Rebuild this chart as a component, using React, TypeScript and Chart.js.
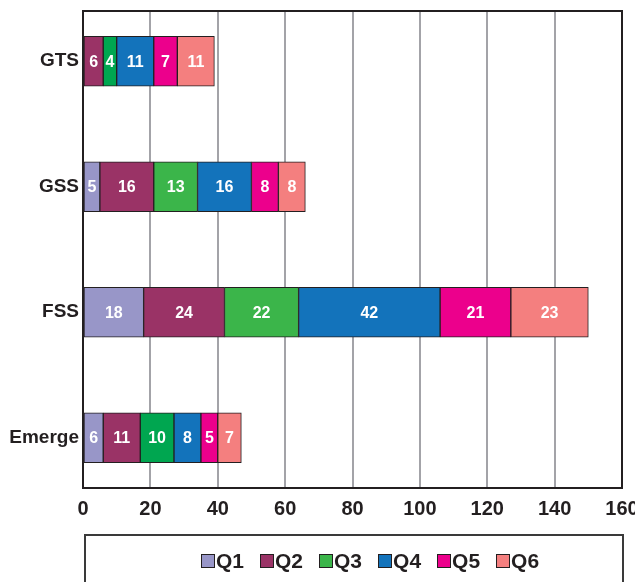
import React, { useEffect, useRef } from "react";
import { Chart, registerables } from "chart.js";

Chart.register(...registerables);

const categories = ["GTS", "GSS", "FSS", "Emerge"];
const seriesNames = ["Q1", "Q2", "Q3", "Q4", "Q5", "Q6"];
const q1 = [0, 5, 18, 6];
const q2 = [6, 16, 24, 11];
const q3 = [4, 13, 22, 10];
const q4 = [11, 16, 42, 8];
const q5 = [7, 8, 21, 5];
const q6 = [11, 8, 23, 7];
const seriesValues = [q1, q2, q3, q4, q5, q6];
const xTicks = [0, 20, 40, 60, 80, 100, 120, 140, 160];

const LIGHT_GREEN = "#3bb54a";
const DARK_GREEN = "#00a650";
const seriesColors: (string | string[])[] = [
  "#9896c8",
  "#9a3366",
  [DARK_GREEN, LIGHT_GREEN, LIGHT_GREEN, DARK_GREEN],
  "#1373bb",
  "#ec008c",
  "#f47f7f",
];
const legendColors = ["#9896c8", "#9a3366", LIGHT_GREEN, "#1373bb", "#ec008c", "#f47f7f"];

const SANS = '"Liberation Sans", Arial, sans-serif';

const barLabelPlugin = {
  id: "barLabels",
  afterDatasetsDraw(chart: any) {
    const ctx = chart.ctx;
    ctx.save();
    const a = chart.chartArea;
    ctx.strokeStyle = "#231f20";
    ctx.lineWidth = 2;
    ctx.strokeRect(a.left, a.top, a.right - a.left, a.bottom - a.top);
    ctx.fillStyle = "#ffffff";
    ctx.font = `bold 16px ${SANS}`;
    ctx.textAlign = "center";
    ctx.textBaseline = "middle";
    chart.data.datasets.forEach((ds: any, di: number) => {
      const meta = chart.getDatasetMeta(di);
      meta.data.forEach((el: any, i: number) => {
        const raw = ds.data[i];
        if (!raw || raw.x == null) return;
        const { x, base, y } = el.getProps(["x", "base", "y"], true);
        ctx.fillText(String(raw.x), (x + base) / 2, y + 1);
      });
    });
    ctx.restore();
  },
};

export default function App() {
  const canvasRef = useRef<HTMLCanvasElement | null>(null);

  useEffect(() => {
    if (!canvasRef.current) return;
    const datasets = seriesNames.map((name, si) => ({
      label: name,
      data: categories.map((_, ci) => ({
        x: seriesValues[si][ci] === 0 ? null : seriesValues[si][ci],
        y: ci,
      })),
      backgroundColor: seriesColors[si],
      borderColor: "#231f20",
      borderWidth: 1,
      borderSkipped: false,
      barThickness: 50,
    }));
    const chart = new Chart(canvasRef.current, {
      type: "bar",
      data: { datasets: datasets as any },
      plugins: [barLabelPlugin],
      options: {
        indexAxis: "y",
        animation: false,
        responsive: false,
        maintainAspectRatio: false,
        layout: { padding: { left: 0, right: 13, top: 11, bottom: 54 } },
        plugins: {
          legend: { display: false },
          tooltip: { enabled: false },
        },
        scales: {
          x: {
            type: "linear",
            stacked: true,
            min: 0,
            max: 160,
            offset: false,
            afterBuildTicks: (scale: any) => {
              scale.ticks = xTicks.map((v) => ({ value: v }));
            },
            afterFit: (scale: any) => {
              scale.height = 40;
              scale.paddingLeft = 0;
              scale.paddingRight = 0;
            },
            ticks: {
              color: "#231f20",
              font: { family: SANS, size: 20, weight: "bold" },
              padding: 9,
              maxRotation: 0,
              autoSkip: false,
            },
            grid: { color: "#a3a3a8", lineWidth: 2, drawTicks: false, offset: false },
            border: { color: "#231f20", width: 2 },
          },
          y: {
            type: "linear",
            stacked: true,
            reverse: true,
            min: -0.4,
            max: 3.4,
            offset: false,
            afterBuildTicks: (scale: any) => {
              scale.ticks = categories.map((_, i) => ({ value: i }));
            },
            afterFit: (scale: any) => {
              scale.width = 83;
              scale.paddingTop = 0;
              scale.paddingBottom = 0;
            },
            ticks: {
              color: "#231f20",
              font: { family: SANS, size: 19, weight: "bold" },
              padding: 4,
              callback: (v: any) => categories[v as number] ?? "",
            },
            grid: { display: false, drawTicks: false, offset: false },
            border: { color: "#231f20", width: 2 },
          },
        },
      },
    });
    return () => chart.destroy();
  }, []);

  return (
    <div
      style={{
        position: "fixed",
        left: 0,
        top: 0,
        width: 635,
        height: 582,
        overflow: "hidden",
        background: "#fff",
      }}
    >
      <canvas ref={canvasRef} width={635} height={582} style={{ display: "block" }} />
      <div
        style={{
          position: "absolute",
          left: 84,
          top: 534,
          width: 540,
          height: 80,
          border: "2px solid #3a3a3a",
          boxSizing: "border-box",
          display: "flex",
          alignItems: "flex-start",
          paddingLeft: 115,
          paddingTop: 14,
          fontFamily: SANS,
          fontWeight: "bold",
          fontSize: 21,
          color: "#231f20",
        }}
      >
        {seriesNames.map((name, i) => (
          <div key={name} style={{ display: "flex", alignItems: "center", marginRight: 16 }}>
            <span
              style={{
                display: "inline-block",
                width: 14,
                height: 14,
                background: legendColors[i],
                border: "1.5px solid #231f20",
                boxSizing: "border-box",
                marginRight: 1,
              }}
            />
            <span style={{ lineHeight: "22px" }}>{name}</span>
          </div>
        ))}
      </div>
    </div>
  );
}
